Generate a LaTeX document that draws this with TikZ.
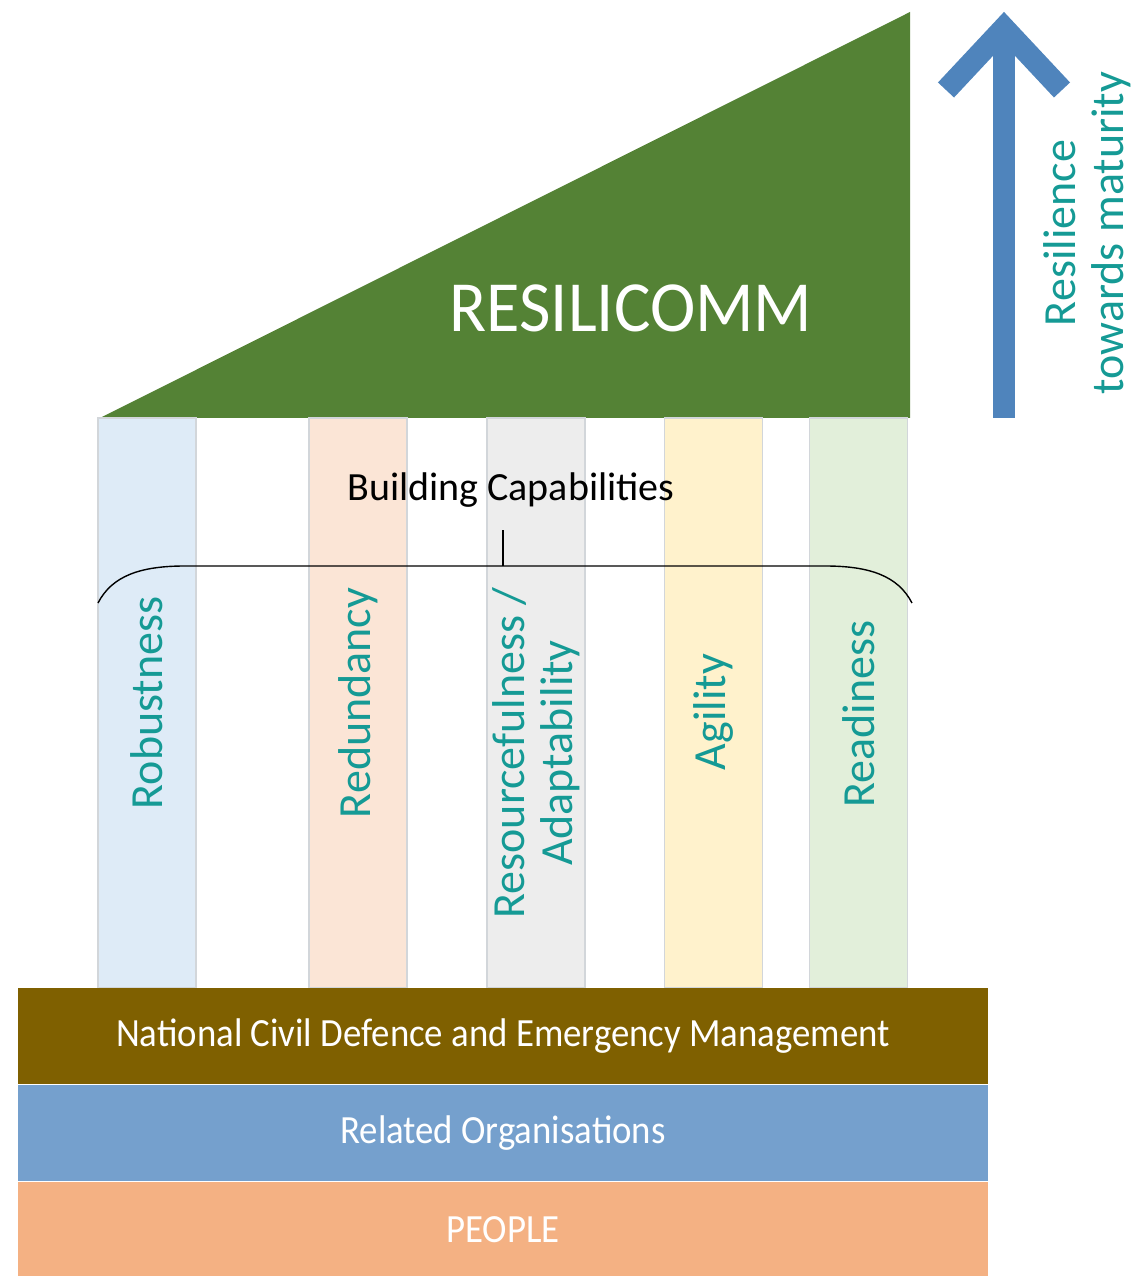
\documentclass[tikz,border=0pt]{standalone}
\usepackage{fontspec}
\setmainfont{Carlito}
\usepackage{xcolor}
\usepackage{tikz}
\usetikzlibrary{positioning}

\definecolor{roofgreen}{HTML}{548235}
\definecolor{labelteal}{HTML}{159A95}
\definecolor{arrowblue}{HTML}{4F84BC}
\definecolor{pillarline}{HTML}{D2D6DA}
\definecolor{robustfill}{HTML}{DEEBF7}
\definecolor{redundfill}{HTML}{FBE5D6}
\definecolor{resourcefill}{HTML}{EDEDED}
\definecolor{agilefill}{HTML}{FFF2CC}
\definecolor{readyfill}{HTML}{E2EFDA}
\definecolor{ncdemfill}{HTML}{7F6000}
\definecolor{orgsfill}{HTML}{75A0CD}
\definecolor{peoplefill}{HTML}{F4B183}

\begin{document}
\begin{tikzpicture}[x=0.5pt,y=0.5pt,
    pillar/.style={rectangle,draw=pillarline,line width=0.6pt,minimum width=49pt,minimum height=285pt,inner sep=0pt},
    pillar text/.style={rotate=90,text=labelteal,align=center,font=\fontsize{23}{24}\selectfont},
    band/.style={rectangle,minimum width=485pt,minimum height=48pt,inner sep=0pt,text=white,font=\fontsize{20}{22}\selectfont},
    maturity arrow/.style={draw=arrowblue,line width=11pt,line join=miter}]

    \useasboundingbox (0,0) rectangle (1132,1276);

    % roof
    \fill[roofgreen] (100,858) -- (910,1264) -- (910,858) -- cycle;
    \node[text=white,font=\fontsize{36}{38}\selectfont] (roof) at (631,968) {\scalebox{0.95}[1]{RESILICOMM}};

    % pillars
    \node[pillar,fill=robustfill] (robust) at (147,573) {};
    \node[pillar,fill=redundfill] (redund) at (358,573) {};
    \node[pillar,fill=resourcefill] (resource) at (536,573) {};
    \node[pillar,fill=agilefill] (agile) at (713.5,573) {};
    \node[pillar,fill=readyfill] (ready) at (858.5,573) {};

    \node[pillar text] at (robust.center) {Robustness};
    \node[pillar text] at (redund.center) {Redundancy};
    \node[pillar text] at ([yshift=-25pt]resource.center) {Resourcefulness /\\Adaptability};
    \node[pillar text] at ([yshift=-4.5pt]agile.center) {Agility};
    \node[pillar text] at ([yshift=-5.5pt]ready.center) {Readiness};

    % brace over the pillars
    \coordinate (brace tick) at (503,710);
    \draw[line width=0.7pt] (98,673) .. controls (112,700) and (140,710) .. (185,710)
        -- (825,710) .. controls (870,710) and (898,700) .. (912,673);
    \draw[line width=0.7pt] (brace tick) -- ++(0,36);
    \node[font=\fontsize{20}{22}\selectfont] (building) at (511,786) {Building Capabilities};

    % base
    \node[band,fill=ncdemfill] (ncdem) at (503,240) {\scalebox{0.92}[1]{National Civil Defence and Emergency Management}};
    \node[band,fill=orgsfill,below=0pt of ncdem] (orgs) {\scalebox{0.92}[1]{Related Organisations}};
    \node[band,fill=peoplefill,below=0pt of orgs] (people) {\scalebox{0.92}[1]{PEOPLE}};

    % maturity arrow
    \coordinate (arrow base) at (1004,858);
    \coordinate (arrow tip) at (1004,1248);
    \draw[maturity arrow] (arrow base) -- (arrow tip);
    \draw[maturity arrow] (946,1186) -- (arrow tip) -- (1062,1186);
    \node[pillar text] (maturity) at (1087,1043) {Resilience\\towards maturity};

\end{tikzpicture}
\end{document}
